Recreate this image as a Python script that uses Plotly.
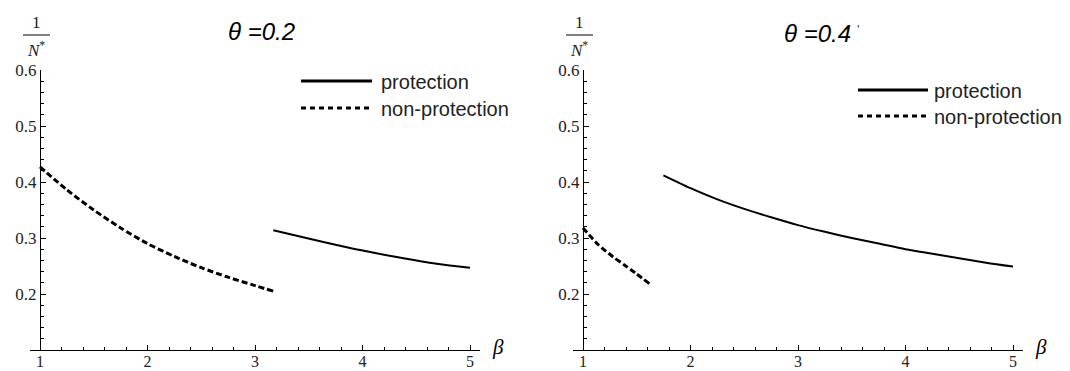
import plotly.graph_objects as go

# ---------------- data ----------------
beta_np_02 = [1.0, 1.25, 1.5, 1.75, 2.0, 2.25, 2.5, 2.75, 3.0, 3.17]
val_np_02 = [0.427, 0.386, 0.350, 0.318, 0.290, 0.267, 0.247, 0.230, 0.215, 0.205]

beta_p_02 = [3.17, 3.636, 3.99, 4.318, 4.69, 5.0]
val_p_02 = [0.314, 0.293, 0.278, 0.266, 0.254, 0.247]

beta_np_04 = [1.0, 1.143, 1.282, 1.391, 1.484, 1.62]
val_np_04 = [0.318, 0.288, 0.266, 0.251, 0.238, 0.218]

beta_p_04 = [1.748, 2.0, 2.25, 2.5, 2.75, 3.0, 3.25, 3.5, 3.75, 4.0, 4.25, 4.5, 4.75, 5.0]
val_p_04 = [0.412, 0.389, 0.369, 0.352, 0.337, 0.323, 0.311, 0.300, 0.290, 0.280, 0.272, 0.264, 0.256, 0.249]

x_ticks = [1, 2, 3, 4, 5]
y_ticks = [0.2, 0.3, 0.4, 0.5, 0.6]
titles = ["θ =0.2", "θ =0.4"]
title_marks = ["", "'"]
legend_labels = ["protection", "non-protection"]

# ---------------- layout geometry ----------------
W, H = 1070, 371
ML, MR, MT, MB = 30, 47, 70, 21
PW = W - ML - MR
PH = H - MT - MB


def px(x):
    return (x - ML) / PW


def py(y):
    return (H - MB - y) / PH


NP_DASH = "6px,3px"
LEG_DASH = "5px,4px"

fig = go.Figure()

fig.add_trace(go.Scatter(x=beta_np_02, y=val_np_02, mode="lines", line=dict(color="black", width=3, dash=NP_DASH, shape="spline", smoothing=0.8), xaxis="x", yaxis="y", showlegend=False))
fig.add_trace(go.Scatter(x=beta_p_02, y=val_p_02, mode="lines", line=dict(color="black", width=2, shape="spline", smoothing=0.8), xaxis="x", yaxis="y", showlegend=False))
fig.add_trace(go.Scatter(x=beta_np_04, y=val_np_04, mode="lines", line=dict(color="black", width=3, dash=NP_DASH, shape="spline", smoothing=0.8), xaxis="x2", yaxis="y2", showlegend=False))
fig.add_trace(go.Scatter(x=beta_p_04, y=val_p_04, mode="lines", line=dict(color="black", width=2, shape="spline", smoothing=0.8), xaxis="x2", yaxis="y2", showlegend=False))

tickfont = dict(family="Liberation Serif", size=17, color="#222")
xtickfont = dict(family="Liberation Serif", size=16, color="#222")


def xaxis(domain, anchor):
    return dict(domain=domain, range=[0.907, 5.093], anchor=anchor, showline=True, linecolor="black", linewidth=1.3,
                ticks="inside", ticklen=5, tickcolor="black", tickvals=x_ticks, showgrid=False, zeroline=False,
                automargin=False, tickfont=xtickfont, ticklabelstandoff=-3,
                minor=dict(ticks="inside", ticklen=3, dtick=0.2, tick0=1, tickcolor="black", showgrid=False))


def yaxis(position):
    return dict(domain=[0, 1], range=[0.1, 0.6], anchor="free", position=position, showline=True, linecolor="black",
                linewidth=1.3, ticks="inside", ticklen=5, tickcolor="black", tickvals=y_ticks, showgrid=False,
                zeroline=False, tickfont=tickfont, tickformat=".1f", automargin=False,
                minor=dict(ticks="inside", ticklen=3, dtick=0.02, tick0=0.1, tickcolor="black", showgrid=False))


left_dom = [0, px(480)]
right_dom = [px(573), 1]

annotations = []
shapes = []

panels = [
    dict(x0=40, title_x=226, title_y=31, leg_x0=301, leg_x1=372, leg_tx=379, leg_y=[81, 108], beta_x=490),
    dict(x0=583, title_x=782, title_y=33, leg_x0=858, leg_x1=928, leg_tx=932, leg_y=[90, 116], beta_x=1033),
]

for i, p in enumerate(panels):
    # title
    annotations.append(dict(text="<i>" + titles[i] + "</i>", x=px(p["title_x"]), y=py(p["title_y"]), xref="paper", yref="paper",
                            xanchor="left", yanchor="middle", showarrow=False,
                            font=dict(family="Liberation Sans", size=24, color="black")))
    if title_marks[i]:
        annotations.append(dict(text=title_marks[i], x=px(p["title_x"] + 73), y=py(p["title_y"] - 4), xref="paper", yref="paper",
                                xanchor="left", yanchor="middle", showarrow=False,
                                font=dict(family="Liberation Sans", size=13, color="#444")))
    # y label fraction 1/N*
    cx = p["x0"] - 4
    annotations.append(dict(text="1", x=px(cx), y=py(23), xref="paper", yref="paper", xanchor="center", yanchor="middle",
                            showarrow=False, font=dict(family="Liberation Serif", size=17, color="#222")))
    shapes.append(dict(type="line", xref="paper", yref="paper", x0=px(cx - 13), x1=px(cx + 14), y0=py(35), y1=py(35),
                       line=dict(color="black", width=1)))
    annotations.append(dict(text="<i>N</i><sup>*</sup>", x=px(cx), y=py(49), xref="paper", yref="paper", xanchor="center",
                            yanchor="middle", showarrow=False, font=dict(family="Liberation Serif", size=17, color="#222")))
    # beta label
    annotations.append(dict(text="<i>β</i>", x=px(p["beta_x"]), y=py(347), xref="paper", yref="paper", xanchor="left",
                            yanchor="middle", showarrow=False, font=dict(family="Liberation Serif", size=21, color="black")))
    # legend
    for j, lab in enumerate(legend_labels):
        ly = p["leg_y"][j]
        shapes.append(dict(type="line", xref="paper", yref="paper", x0=px(p["leg_x0"]), x1=px(p["leg_x1"]), y0=py(ly), y1=py(ly),
                           line=dict(color="black", width=3, dash=None if j == 0 else LEG_DASH)))
        annotations.append(dict(text=lab, x=px(p["leg_tx"]), y=py(ly + 1), xref="paper", yref="paper", xanchor="left",
                                yanchor="middle", showarrow=False, font=dict(family="Liberation Sans", size=20, color="#222")))

fig.update_layout(
    width=W, height=H,
    margin=dict(l=ML, r=MR, t=MT, b=MB, autoexpand=False),
    paper_bgcolor="white", plot_bgcolor="white",
    xaxis=xaxis(left_dom, "y"),
    yaxis=yaxis(px(40)),
    xaxis2=xaxis(right_dom, "y2"),
    yaxis2=yaxis(px(583)),
    annotations=annotations,
    shapes=shapes,
    showlegend=False,
)

fig.write_html("out.html", config={"displayModeBar": False},
               post_script="document.body.style.margin='0px';document.body.style.overflow='hidden';")
